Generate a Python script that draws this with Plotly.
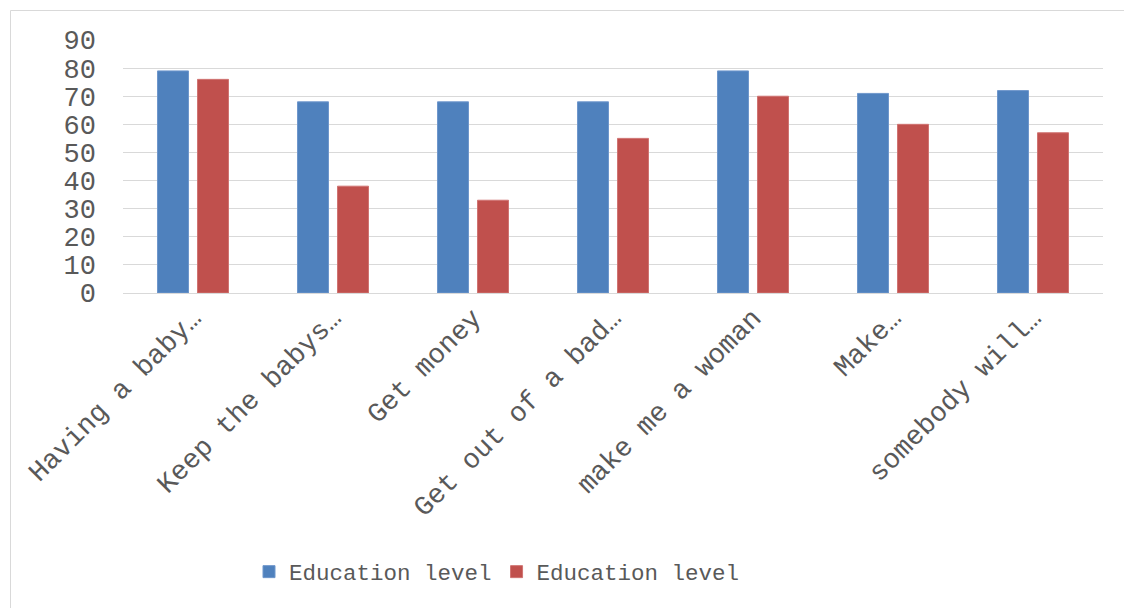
import plotly.graph_objects as go

categories = ["Having a baby…", "Keep the babys…", "Get money", "Get out of a bad…",
              "make me a woman", "Make…", "somebody will…"]
series1_name = "Education level"
series2_name = "Education level"
series1 = [79, 68, 68, 68, 79, 71, 72]
series2 = [76, 38, 33, 55, 70, 60, 57]
y_ticks = [0, 10, 20, 30, 40, 50, 60, 70, 80, 90]

W, H = 1124, 608
L, R, T, B = 123, 21, 40, 315
pw, ph = W - L - R, H - T - B

FONT = "Liberation Mono, Courier New, monospace"
GRAY = "#595959"

fig = go.Figure()
fig.add_trace(go.Bar(x=categories, y=series1, name=series1_name,
                     marker=dict(color="#4F81BD", line=dict(color="#6f97cc", width=1))))
fig.add_trace(go.Bar(x=categories, y=series2, name=series2_name,
                     marker=dict(color="#C0504D", line=dict(color="#d07472", width=1))))

def px_x(x):
    return (x - L) / pw

def px_y(y):
    return (H - B - y) / ph

fig.update_layout(
    width=W, height=H,
    margin=dict(l=L, r=R, t=T, b=B, autoexpand=False),
    paper_bgcolor="white", plot_bgcolor="white",
    barmode="group", bargap=0.4286, bargroupgap=0.225,
    font=dict(family=FONT, color=GRAY),
    showlegend=True,
    legend=dict(orientation="h", x=px_x(497), y=px_y(572), xanchor="center", yanchor="middle",
                font=dict(family=FONT, size=22.5, color=GRAY), itemwidth=30,
                bgcolor="rgba(0,0,0,0)"),
    xaxis=dict(tickangle=-45, tickfont=dict(family=FONT, size=27.5, color=GRAY),
               showgrid=False, showline=False, ticks="", ticklabelstandoff=2),
    yaxis=dict(range=[0, 90], tickvals=y_ticks, tickfont=dict(family=FONT, size=27, color=GRAY),
               showgrid=True, gridcolor="#d9d9d9", gridwidth=1, zeroline=True,
               zerolinecolor="#d9d9d9", zerolinewidth=1, showline=False, ticks="",
               ticklabelstandoff=26),
    shapes=[dict(type="rect", xref="paper", yref="paper",
                 x0=px_x(10.5), x1=px_x(1140), y0=px_y(640), y1=px_y(10.5),
                 line=dict(color="#d9d9d9", width=1), fillcolor="rgba(0,0,0,0)", layer="below")],
)

fig.write_html("out.html")
